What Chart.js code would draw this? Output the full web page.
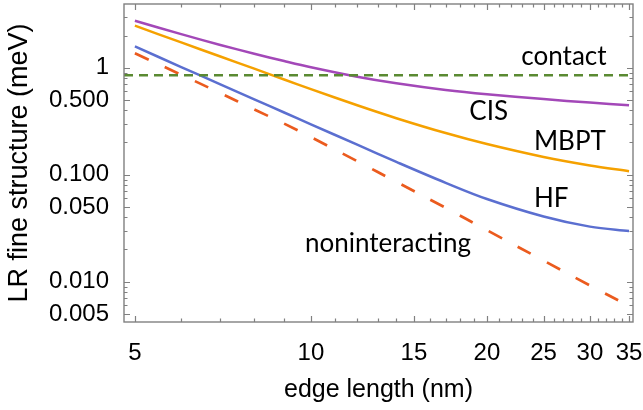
<!DOCTYPE html>
<html><head><meta charset="utf-8">
<script src="https://cdn.jsdelivr.net/npm/chart.js@4.4.1/dist/chart.umd.min.js"></script>
<style>html,body{margin:0;padding:0;background:#fff;}#wrap{width:643px;height:410px;}</style>
</head><body><div id="wrap"><canvas id="c" width="643" height="410"></canvas></div>
<script>
const edgeLength = [5,6,7,8,9,10,12,14,17,20,25,30,35];
const cis = [2.75,2.061,1.633,1.351,1.155,1.011,0.824,0.715,0.619,0.564,0.509,0.472,0.445];
const mbpt = [2.47,1.723,1.273,0.979,0.776,0.631,0.4453,0.3373,0.245,0.1934,0.1464,0.122,0.1079];
const hf = [1.58,1.015,0.70,0.507,0.3815,0.2958,0.1907,0.1317,0.084,0.0593,0.0407,0.0327,0.0298];
const noninteracting = [1.363,0.86,0.579,0.408,0.30,0.2245,0.1337,0.0857,0.049,0.0303,0.01574,0.00922,0.00593];
const contactLevel = 0.85;
const xRange = [4.79, 35.55];
const yRange = [0.0042, 3.94];
const xTickValues = [5,10,15,20,25,30,35];
const xTickLabels = ['5','10','15','20','25','30','35'];
const yTickValues = [0.005,0.01,0.05,0.1,0.5,1];
const yTickLabels = ['0.005','0.010','0.050','0.100','0.500','1'];
const xMinorTicks = [6,7,8,9,11,12,13,14,16,17,18,19,21,22,23,24,26,27,28,29,31,32,33,34];
const yMinorTicks = [0.006,0.007,0.008,0.009,0.02,0.03,0.04,0.06,0.07,0.08,0.09,0.2,0.3,0.4,0.6,0.7,0.8,0.9,2,3];
const curveLabels = ['contact','CIS','MBPT','HF','noninteracting'];
const labelX = [22.9, 18.66, 24.07, 24.07, 9.77];
const labelY = [1.06, 0.3245, 0.170, 0.0502, 0.01907];

const pts = arr => edgeLength.map((x,i)=>({x:x, y:arr[i]}));

const frameTicks = {
  id:'frameTicks',
  afterDatasetsDraw(chart){
    const {ctx, chartArea:a, scales:{x, y}} = chart;
    ctx.save();
    ctx.strokeStyle = '#808080';
    ctx.lineWidth = 1.2;
    ctx.beginPath();
    const xt = (vals, len) => vals.forEach(v => {
      const p = Math.round(x.getPixelForValue(v)) + 0.5;
      ctx.moveTo(p, a.bottom); ctx.lineTo(p, a.bottom - len);
      ctx.moveTo(p, a.top); ctx.lineTo(p, a.top + len);
    });
    const yt = (vals, len) => vals.forEach(v => {
      const p = Math.round(y.getPixelForValue(v)) + 0.5;
      ctx.moveTo(a.left, p); ctx.lineTo(a.left + len, p);
      ctx.moveTo(a.right, p); ctx.lineTo(a.right - len, p);
    });
    xt(xTickValues, 6); xt(xMinorTicks, 3.5);
    yt(yTickValues, 6); yt(yMinorTicks, 3.5);
    ctx.stroke();
    ctx.lineWidth = 1.4;
    ctx.strokeRect(a.left, a.top, a.right - a.left, a.bottom - a.top);
    ctx.fillStyle = '#000';
    ctx.font = '26px Lato';
    ctx.textBaseline = 'alphabetic';
    ctx.textAlign = 'left';
    curveLabels.forEach((t,i) => {
      ctx.fillText(t, x.getPixelForValue(labelX[i]), y.getPixelForValue(labelY[i]));
    });
    ctx.restore();
  }
};

new Chart(document.getElementById('c'), {
  type:'line',
  data:{
    datasets:[
      {label:'contact', data:[{x:xRange[0],y:contactLevel},{x:xRange[1],y:contactLevel}], borderColor:'#5A8A32', borderWidth:2.5, borderDash:[9,6], pointRadius:0, tension:0},
      {label:'CIS', data:pts(cis), borderColor:'#A348B8', borderWidth:2.5, pointRadius:0, tension:0.35},
      {label:'MBPT', data:pts(mbpt), borderColor:'#F5A100', borderWidth:2.5, pointRadius:0, tension:0.35},
      {label:'HF', data:pts(hf), borderColor:'#5B6FD0', borderWidth:2.5, pointRadius:0, tension:0.35},
      {label:'noninteracting', data:pts(noninteracting), borderColor:'#EB5B1E', borderWidth:2.7, borderDash:[15,18], pointRadius:0, tension:0.35}
    ]
  },
  options:{
    responsive:false, animation:false, devicePixelRatio:1,
    layout:{padding:{top:4, right:10, left:0, bottom:0}},
    plugins:{legend:{display:false}, tooltip:{enabled:false}},
    scales:{
      x:{type:'logarithmic', min:xRange[0], max:xRange[1],
        afterBuildTicks:s=>{s.ticks = xTickValues.map(v=>({value:v}));},
        afterFit:s=>{s.height = 88; s.paddingLeft = 0; s.paddingRight = 0;},
        grid:{display:false, drawTicks:false}, border:{display:false},
        ticks:{autoSkip:false, maxRotation:0, padding:17, color:'#000', font:{family:'Liberation Sans', size:24},
          callback:(v,i)=>xTickLabels[i]},
        title:{display:true, text:'edge length (nm)', color:'#000', font:{family:'Liberation Sans', size:25}, padding:{top:0,bottom:5}}
      },
      y:{type:'logarithmic', min:yRange[0], max:yRange[1],
        afterBuildTicks:s=>{s.ticks = yTickValues.map(v=>({value:v}));},
        afterFit:s=>{s.width = 124; s.paddingTop = 0; s.paddingBottom = 0;},
        grid:{display:false, drawTicks:false}, border:{display:false},
        ticks:{autoSkip:false, padding:15, color:'#000', font:{family:'Liberation Sans', size:24},
          callback:(v,i)=>yTickLabels[i]},
        title:{display:true, text:'LR fine structure (meV)', color:'#000', font:{family:'Liberation Sans', size:27}, padding:{top:3,bottom:0}}
      }
    }
  },
  plugins:[frameTicks]
});
</script></body></html>
